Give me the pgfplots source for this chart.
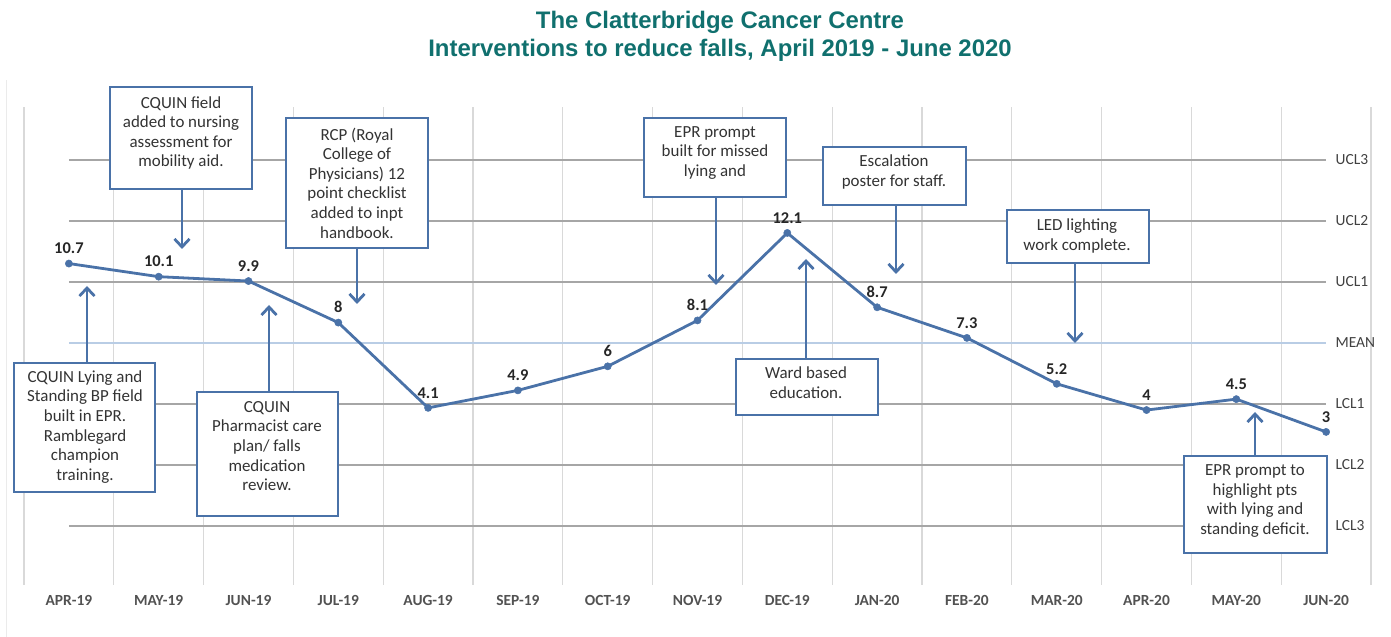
\documentclass[border=0pt]{standalone}
\usepackage{pgfplots}
\pgfplotsset{compat=1.18}
\usepackage{fontspec}
\setmainfont{Carlito}
\newfontfamily\titlefont{Liberation Sans}
\usetikzlibrary{arrows.meta}

\definecolor{falls}{RGB}{74,114,168}
\definecolor{titleteal}{RGB}{16,112,110}
\definecolor{meanline}{RGB}{185,205,229}
\definecolor{ctrl}{RGB}{166,166,166}
\definecolor{vgrid}{RGB}{217,217,217}
\definecolor{txt}{RGB}{51,51,51}

\begin{document}
\begin{tikzpicture}[x=1bp,y=1bp,
  box/.style={draw=falls, line width=2.4bp, fill=white},
  note/.style={font=\fontsize{17}{19.7}\selectfont, text=txt, align=center, inner sep=0pt},
  arr/.style={draw=falls, line width=2.8bp, -{Straight Barb[length=8bp,width=15bp]}},
  ctl/.style={font=\fontsize{15.5}{18}\selectfont, text=black!75, anchor=west, xshift=6bp}]
\useasboundingbox (0,0) rectangle (1391,637);
\draw[black!8, line width=1bp] (6,0) -- (6,557);
\begin{axis}[
  at={(24bp,52bp)}, anchor=south west,
  width=1347bp, height=478bp, scale only axis,
  xmin=-0.5, xmax=14.5, ymin=-4, ymax=17.86,
  axis line style={draw=none},
  xtick={0,...,14},
  xticklabels={APR-19,MAY-19,JUN-19,JUL-19,AUG-19,SEP-19,OCT-19,NOV-19,DEC-19,JAN-20,FEB-20,MAR-20,APR-20,MAY-20,JUN-20},
  minor xtick={-0.5,0.5,...,14.5},
  xminorgrids=true,
  minor grid style={draw=vgrid, line width=1.2bp},
  ytick=\empty,
  major tick length=0pt, minor tick length=0pt,
  xticklabel style={font=\fontsize{15.5}{18}\selectfont\bfseries, text=black!68, yshift=-7bp},
  clip=false,
]
% control limits
\addplot[ctrl, line width=1.2bp, forget plot] coordinates {(0,15.44) (14,15.44)};
\addplot[ctrl, line width=1.2bp, forget plot] coordinates {(0,12.65) (14,12.65)};
\addplot[ctrl, line width=1.2bp, forget plot] coordinates {(0,9.86) (14,9.86)};
\addplot[meanline, line width=2bp, forget plot] coordinates {(0,7.07) (14,7.07)};
\addplot[ctrl, line width=1.2bp, forget plot] coordinates {(0,4.28) (14,4.28)};
\addplot[ctrl, line width=1.2bp, forget plot] coordinates {(0,1.49) (14,1.49)};
\addplot[ctrl, line width=1.2bp, forget plot] coordinates {(0,-1.30) (14,-1.30)};
\node[ctl] at (14,15.44) {UCL3};
\node[ctl] at (14,12.65) {UCL2};
\node[ctl] at (14,9.86) {UCL1};
\node[ctl] at (14,7.07) {MEAN};
\node[ctl] at (14,4.28) {LCL1};
\node[ctl] at (14,1.49) {LCL2};
\node[ctl] at (14,-1.30) {LCL3};
% falls per month
\addplot[falls, line width=2.8bp, mark=*, mark size=3.6bp,
  mark options={solid, line width=0.5bp, fill=falls},
  nodes near coords, point meta=explicit symbolic,
  nodes near coords style={font=\fontsize{16.5}{18}\selectfont\bfseries, text=black!85, yshift=6bp}]
  coordinates {
  (0,10.7) [10.7]
  (1,10.1) [10.1]
  (2,9.9) [9.9]
  (3,8) [8]
  (4,4.1) [4.1]
  (5,4.9) [4.9]
  (6,6) [6]
  (7,8.1) [8.1]
  (8,12.1) [12.1]
  (9,8.7) [8.7]
  (10,7.3) [7.3]
  (11,5.2) [5.2]
  (12,4) [4]
  (13,4.5) [4.5]
  (14,3) [3]
};
\end{axis}
% title
\node[font=\titlefont\fontsize{24}{28}\selectfont\bfseries, text=titleteal] at (720,615) {The Clatterbridge Cancer Centre};
\node[font=\titlefont\fontsize{24}{28}\selectfont\bfseries, text=titleteal] at (720,587) {Interventions to reduce falls, April 2019 - June 2020};
% annotations, in image pixel coordinates (y down)
\begin{scope}[x=1bp, y=-1bp, yshift=637bp]
\draw[arr] (182,189) -- (182,249);
\draw[box] (110,87) rectangle (252,189);
\node[note] at (181,133) {CQUIN field\\added to nursing\\assessment for\\mobility aid.};

\draw[arr] (357,248) -- (357,304);
\draw[box] (286,118) rectangle (428,248);
\node[note] at (357,183) {RCP (Royal\\College of\\Physicians) 12\\point checklist\\added to inpt\\handbook.};

\draw[arr] (87,363) -- (87,286);
\draw[box] (14,363) rectangle (155,492);
\node[note] at (85,427) {CQUIN Lying and\\Standing BP field\\built in EPR.\\Ramblegard\\champion\\training.};

\draw[arr] (269,392) -- (269,305);
\draw[box] (197,392) rectangle (338,516);
\node[note] at (267,446) {CQUIN\\Pharmacist care\\plan/ falls\\medication\\review.};

\draw[arr] (716,197) -- (716,285);
\draw[box] (644,118) rectangle (786,197);
\node[note] at (715,153) {EPR prompt\\built for missed\\lying and};

\draw[arr] (896,205) -- (896,274);
\draw[box] (823,147) rectangle (966,205);
\node[note] at (894,172) {Escalation\\poster for staff.};

\draw[arr] (806,359) -- (806,259);
\draw[box] (736,359) rectangle (878,415);
\node[note] at (806,383) {Ward based\\education.};

\draw[arr] (1075,263) -- (1075,343);
\draw[box] (1007,210) rectangle (1149,263);
\node[note] at (1077,236) {LED lighting\\work complete.};

\draw[arr] (1255,456) -- (1255,412);
\draw[box] (1184,456) rectangle (1327,553);
\node[note] at (1255,501) {EPR prompt to\\highlight pts\\with lying and\\standing deficit.};
\end{scope}
\end{tikzpicture}
\end{document}
